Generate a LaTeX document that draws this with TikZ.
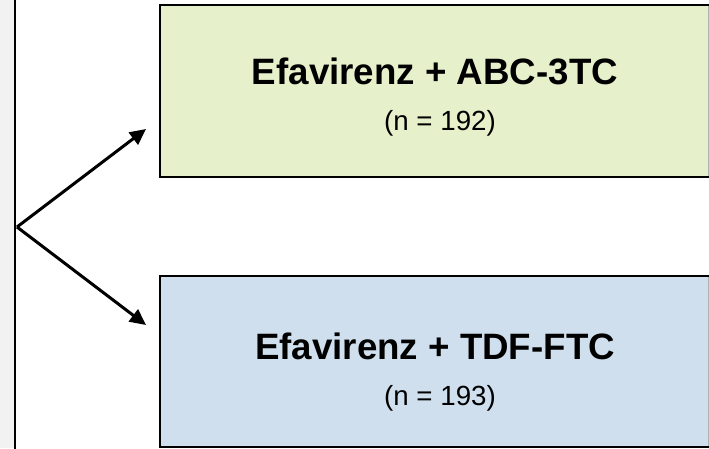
\documentclass[tikz,border=0pt]{standalone}
\usepackage{fontspec}
\setmainfont{Liberation Sans}
\usetikzlibrary{arrows.meta}
\definecolor{greenbox}{RGB}{230,240,202}
\definecolor{bluebox}{RGB}{207,223,238}
\definecolor{strip}{RGB}{242,242,242}
\tikzset{
  armbox/.style={draw=black, line width=2pt, inner sep=0pt, minimum width=552pt, minimum height=172pt},
  titletext/.style={anchor=base, inner sep=0pt, font=\fontsize{36.7}{40}\selectfont\bfseries},
  ntext/.style={anchor=base, inner sep=0pt, font=\fontsize{27.7}{30}\selectfont},
  arm/.style={line width=3pt, -{Triangle[length=16pt,width=15pt]}}
}
\begin{document}
\begin{tikzpicture}[x=1pt,y=-1pt]
\useasboundingbox (0,0) rectangle (709,448);
\fill[strip] (0,0) rectangle (15,448);
\draw[line width=2.5pt] (15,-2) -- (15,450);
% boxes
\node[armbox, fill=greenbox] (top) at (436,91) {};
\node[armbox, fill=bluebox, minimum height=171pt] (bot) at (436,361.5) {};
\draw[gray!60, line width=1pt] (708,6) -- (708,176);
\draw[gray!60, line width=1pt] (708,277) -- (708,446);
% texts
\node[titletext] (t1) at (435,84.3) {Efavirenz + ABC-3TC};
\node[ntext] (n1) at (440,130) {(n = 192)};
\node[titletext] (t2) at (435,359.3) {Efavirenz + TDF-FTC};
\node[ntext] (n2) at (440,405) {(n = 193)};
% arrows
\coordinate (apex) at (17,227);
\coordinate (tipA) at (146,129);
\coordinate (tipB) at (146,325);
\draw[arm] (apex) -- (tipA);
\draw[arm] (apex) -- (tipB);
\end{tikzpicture}
\end{document}
